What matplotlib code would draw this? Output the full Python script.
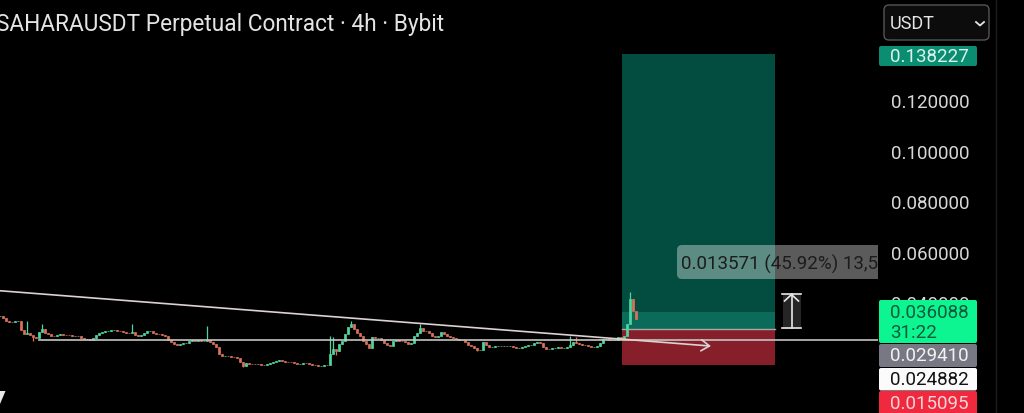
import numpy as np
import matplotlib
matplotlib.use("Agg")
import matplotlib.pyplot as plt
from matplotlib.patches import FancyBboxPatch, Rectangle, Polygon

plt.rcParams['font.family'] = ['Roboto', 'DejaVu Sans']

close = [
0.0346,0.0336,0.0327,0.0323,0.0320,0.0324,0.0327,0.0291,0.0274,0.0278,0.0270,0.0261,0.0259,0.0280,0.0294,0.0278,
0.0273,0.0267,0.0266,0.0270,0.0274,0.0271,0.0270,0.0269,0.0267,0.0267,0.0265,0.0258,0.0254,0.0253,0.0251,0.0257,
0.0270,0.0278,0.0283,0.0286,0.0287,0.0288,0.0290,0.0287,0.0284,0.0282,0.0279,0.0276,0.0280,0.0270,0.0267,0.0270,
0.0276,0.0284,0.0286,0.0279,0.0274,0.0273,0.0270,0.0267,0.0251,0.0241,0.0233,0.0232,0.0234,0.0237,0.0240,0.0245,
0.0250,0.0246,0.0249,0.0246,0.0247,0.0249,0.0243,0.0234,0.0221,0.0195,0.0185,0.0188,0.0185,0.0184,0.0181,0.0177,
0.0162,0.0148,0.0159,0.0156,0.0155,0.0154,0.0154,0.0152,0.0151,0.0154,0.0159,0.0164,0.0168,0.0170,0.0167,0.0164,
0.0163,0.0162,0.0159,0.0154,0.0156,0.0159,0.0158,0.0155,0.0152,0.0150,0.0146,0.0147,0.0152,0.0151,0.0195,0.0215,
0.0208,0.0234,0.0247,0.0274,0.0300,0.0313,0.0294,0.0278,0.0265,0.0247,0.0234,0.0217,0.0261,0.0257,0.0257,0.0251,
0.0238,0.0232,0.0225,0.0247,0.0249,0.0246,0.0245,0.0241,0.0236,0.0238,0.0267,0.0276,0.0296,0.0287,0.0286,0.0278,
0.0267,0.0261,0.0267,0.0280,0.0274,0.0265,0.0262,0.0257,0.0254,0.0251,0.0249,0.0241,0.0232,0.0228,0.0218,0.0212,
0.0212,0.0241,0.0230,0.0224,0.0224,0.0225,0.0228,0.0226,0.0226,0.0225,0.0225,0.0221,0.0218,0.0218,0.0224,0.0225,
0.0229,0.0232,0.0238,0.0241,0.0237,0.0224,0.0216,0.0214,0.0217,0.0220,0.0221,0.0218,0.0218,0.0221,0.0230,0.0241,
0.0238,0.0234,0.0232,0.0229,0.0225,0.0222,0.0222,0.0226,0.0238,0.0253,0.0254,0.0250,0.0249,0.0251,0.0262,0.0254,
0.0267,0.0313,0.0412,0.0366,0.0333]

wick_high_idx = [9, 14, 44, 69, 110, 111, 117, 140, 190, 192, 210]
wick_high_val = [0.0327, 0.0313, 0.0313, 0.0304, 0.0267, 0.0260, 0.0327, 0.0313, 0.0267, 0.0260, 0.0439]
wick_low_idx = [11, 81, 112, 159, 209]
wick_low_val = [0.0245, 0.0142, 0.0190, 0.0205, 0.0290]

y_ticks = [0.04, 0.06, 0.08, 0.10, 0.12]
y_tick_labels = ['0.040000', '0.060000', '0.080000', '0.100000', '0.120000']

take_profit = 0.138227
current_price = 0.036088
entry_price = 0.029410
level_price = 0.024882
stop_loss = 0.015095
position_start, position_end = 207.3, 258.3
trend_x = [0, 237]
trend_y = [0.0445, 0.0226]
level_start = 13

title = 'SAHARAUSDT Perpetual Contract · 4h · Bybit'
measure_text = '0.013571 (45.92%) 13,571'

fig = plt.figure(figsize=(10.24, 4.14), dpi=100, facecolor='black')
W, H = 1024, 414
ax = fig.add_axes([0, 0, 878 / W, 1], facecolor='black')
ax.set_xlim(0, 878 / 3)
ax.set_ylim(-0.0039, 0.16)
for s in ax.spines.values():
    s.set_visible(False)
ax.set_xticks([])
ax.yaxis.tick_right()
ax.set_yticks(y_ticks)
ax.set_yticklabels(y_tick_labels, color='#d8d8d8', fontsize=13.5)
ax.tick_params(axis='y', length=0, pad=9)

# position boxes
w = position_end - position_start
ax.add_patch(Rectangle((position_start, entry_price), w, take_profit - entry_price, color='#034c40', lw=0, zorder=1))
ax.add_patch(Rectangle((position_start, entry_price), w, current_price - entry_price, color='#0a6b5b', lw=0, zorder=1.1))
ax.add_patch(Rectangle((position_start, stop_loss), w, entry_price - stop_loss, color='#861f2a', lw=0, zorder=1))
ax.plot([position_start, position_end], [entry_price, entry_price], color='#a9a9a0', lw=1, zorder=1.2)

# candles
close_arr = np.array(close)
x = np.arange(len(close_arr)) + 0.0
open_arr = np.r_[close_arr[0], close_arr[:-1]]
body_low = np.minimum(open_arr, close_arr)
high = np.maximum(open_arr, close_arr)
low = body_low.copy()
high[wick_high_idx] = wick_high_val
low[wick_low_idx] = wick_low_val
up = close_arr >= open_arr
colors = np.where(up, '#4fd6a0', '#d9725a')
ax.vlines(x, low, high, colors=colors, lw=0.9, zorder=3)
ax.bar(x, np.abs(close_arr - open_arr), bottom=body_low, width=0.4,
       color=colors, edgecolor=colors, lw=0.5, zorder=3)

# lines
ax.plot([level_start, 878 / 3], [level_price, level_price], color='#c4c4c4', lw=1.2, zorder=4)
ax.annotate('', xy=(trend_x[1], trend_y[1]), xytext=(trend_x[0], trend_y[0]),
            arrowprops=dict(arrowstyle='->,head_length=0.6,head_width=0.4', color='#dcd2d2', lw=1.2,
                            shrinkA=0, shrinkB=0), zorder=4)

# overlay in pixel space
ov = fig.add_axes([0, 0, 1, 1], facecolor='none')
ov.set_xlim(0, W)
ov.set_ylim(H, 0)
ov.axis('off')

ov.text(-4, 25, title, color='#e4e4e4', fontsize=16.3, va='center', ha='left')

# measuring tooltip
clip = Rectangle((0, 0), 878, H, transform=ov.transData)
tip = FancyBboxPatch((677, 246), 220, 34, boxstyle='round,pad=0,rounding_size=5', lw=0,
                     fc='white', alpha=0.36, zorder=5)
ov.add_patch(tip)
tip.set_clip_path(clip)
mt = ov.text(681, 264, measure_text, color='#1c1c1c', fontsize=13.5, va='center', ha='left', zorder=6,
             clip_on=True)
mt.set_clip_path(clip)

# measure marker
ov.add_patch(Rectangle((782.5, 295), 18.5, 35, fc='#252525', lw=0, zorder=5))
ov.plot([782, 801], [295, 295], color='#e8e8e8', lw=1.2, zorder=6)
ov.plot([782, 801], [329, 329], color='#e8e8e8', lw=1.2, zorder=6)
ov.plot([791.5, 791.5], [295, 329], color='#e8e8e8', lw=1.2, zorder=6)
ov.plot([784.5, 791.5, 798.5], [302, 295.5, 302], color='#e8e8e8', lw=1.2, zorder=6)

def tag(y0, y1, fc, txt, tc, y_txt=None):
    ov.add_patch(FancyBboxPatch((879, y0), 98, y1 - y0, boxstyle='round,pad=0,rounding_size=2', fc=fc, lw=0, zorder=7))
    ov.text(890, (y0 + y1) / 2 if y_txt is None else y_txt, txt, color=tc, fontsize=13.5, va='center', ha='left', zorder=8)

tag(47, 67, '#0b8d72', f'{take_profit:.6f}', '#d9f2ec')
tag(301, 344, '#0df590', f'{current_price:.6f}', '#0b5a3c', y_txt=313)
ov.text(890, 333, '31:22', color='#0b5a3c', fontsize=13.5, va='center', ha='left', zorder=8)
tag(345, 368, '#787885', f'{entry_price:.6f}', '#f2f2f2')
tag(369, 391.5, '#fbfbfb', f'{level_price:.6f}', '#111111')
tag(392, 416, '#f0293f', f'{stop_loss:.6f}', '#f5d5d8', y_txt=404)

# currency selector
ov.add_patch(FancyBboxPatch((884, 6), 105, 35, boxstyle='round,pad=0,rounding_size=5',
                            fc='#0c0c0c', ec='#555555', lw=1, zorder=7))
ov.text(890, 24, 'USDT', color='#e6e6e6', fontsize=13, va='center', ha='left', zorder=8)
ov.plot([976, 980, 984], [23, 26.5, 23], color='#e6e6e6', lw=1.3, zorder=8)

ov.plot([996, 996], [0, H], color='#1d1d1d', lw=1, zorder=2)
ov.add_patch(Polygon([(0, 392), (5.5, 392), (0, 405)], fc='#e8e8e8', lw=0))

fig.savefig('out.png', dpi=100, facecolor='black')
